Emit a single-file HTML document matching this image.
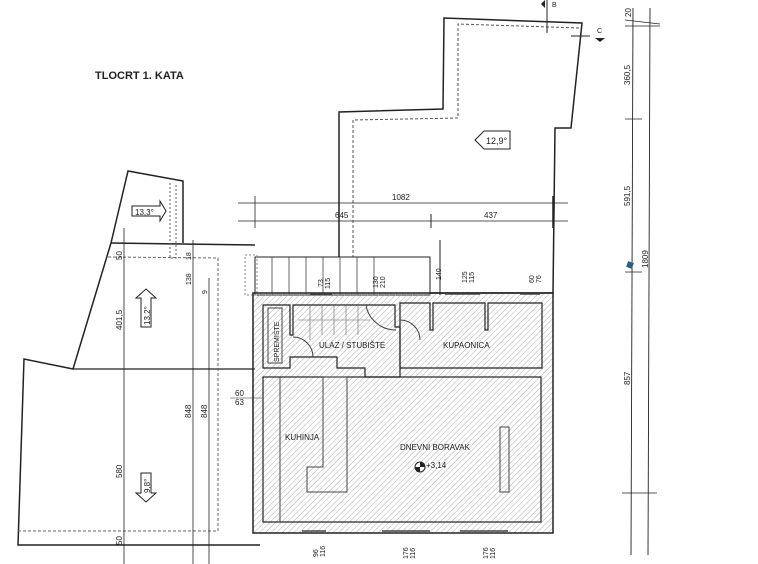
<!DOCTYPE html>
<html><head><style>
html,body{margin:0;padding:0;background:#fff;}
svg{display:block;}
text{font-family:"Liberation Sans",sans-serif;fill:#222;}
</style></head><body>
<svg width="758" height="564" viewBox="0 0 758 564" xmlns="http://www.w3.org/2000/svg">
<defs>
<pattern id="h" width="4" height="4" patternUnits="userSpaceOnUse" patternTransform="rotate(45)">
<line x1="0" y1="0" x2="0" y2="4" stroke="#999" stroke-width="0.8"/>
</pattern>
</defs>
<rect width="758" height="564" fill="#fff"/>
<text x="95" y="79" font-size="11" font-weight="bold">TLOCRT 1. KATA</text>

<polygon points="339,250 339,112 443,109 444,18 582,23 571,128 555,128 553,293 339,293" fill="none" stroke="#222" stroke-width="1.5"/>
<polyline points="353,293 353,120 458,118 458,24 580,28" fill="none" stroke="#555" stroke-dasharray="3,2"/>
<polygon points="475,140 484,131 510,131 510,149 484,149" fill="#fff" stroke="#222"/>
<text x="486" y="144" font-size="9">12,9°</text>
<line x1="547" y1="0" x2="547" y2="33" stroke="#222"/>
<path d="M545,0 L545,8 L541,4 Z" fill="#222"/><text x="552" y="7" font-size="7">B</text>
<line x1="571" y1="36" x2="590" y2="36" stroke="#222"/>
<path d="M595,38 L605,38 L600,42 Z" fill="#222"/><text x="597" y="33" font-size="7">C</text>

<line x1="238" y1="203" x2="568" y2="203" stroke="#222" stroke-width="0.8"/>
<line x1="238" y1="221" x2="568" y2="221" stroke="#222" stroke-width="0.8"/>
<line x1="431" y1="214" x2="431" y2="228" stroke="#222"/>
<line x1="553" y1="196" x2="553" y2="228" stroke="#222" stroke-width="1.5"/>
<line x1="255" y1="196" x2="255" y2="228" stroke="#222" stroke-width="0.8"/>
<text x="392" y="200" font-size="8">1082</text>
<text x="335" y="218" font-size="8">645</text>
<text x="484" y="218" font-size="8">437</text>

<polyline points="111,243 128,171 183,181 183,243" fill="none" stroke="#222" stroke-width="1.5"/>
<polyline points="111,243 255,245" fill="none" stroke="#222" stroke-width="1.5"/>
<polyline points="111,243 73,369 24,359 18,545 260,545" fill="none" stroke="#222" stroke-width="1.5"/>
<line x1="73" y1="369" x2="255" y2="369" stroke="#222" stroke-width="1.2"/>
<polyline points="170,183 170,258 176,258 176,183" fill="none" stroke="#666" stroke-dasharray="2,2"/>
<polyline points="108,257 218,258 218,531 18,531" fill="none" stroke="#666" stroke-dasharray="3,2"/>
<polygon points="132,206 160,206 160,201 166,211 160,221 160,216 132,216" fill="#fff" stroke="#222"/>
<text x="135" y="215" font-size="8">13,3°</text>
<polygon points="141,327 141,298 136,298 146,289 156,298 151,298 151,327" fill="#fff" stroke="#222"/>
<text x="150" y="325" font-size="8" transform="rotate(-90 150 325)">13,2°</text>
<polygon points="141,473 141,493 136,493 146,502 156,493 151,493 151,473" fill="#fff" stroke="#222"/>
<text x="150" y="493" font-size="8" transform="rotate(-90 150 493)">9,8°</text>
<line x1="124" y1="228" x2="124" y2="564" stroke="#222" stroke-width="0.8"/>
<line x1="193" y1="240" x2="193" y2="564" stroke="#222" stroke-width="0.8"/>
<line x1="209" y1="278" x2="209" y2="564" stroke="#222" stroke-width="0.8"/>
<text x="122" y="260" font-size="8" transform="rotate(-90 122 260)">50</text>
<text x="122" y="330" font-size="8" transform="rotate(-90 122 330)">401,5</text>
<text x="122" y="478" font-size="8" transform="rotate(-90 122 478)">580</text>
<text x="122" y="545" font-size="8" transform="rotate(-90 122 545)">50</text>
<text x="191" y="285" font-size="7" transform="rotate(-90 191 285)">138</text>
<text x="191" y="260" font-size="7" transform="rotate(-90 191 260)">18</text>
<text x="207" y="294" font-size="7" transform="rotate(-90 207 294)">9</text>
<text x="191" y="418" font-size="8" transform="rotate(-90 191 418)">848</text>
<text x="207" y="418" font-size="8" transform="rotate(-90 207 418)">848</text>
<text x="235" y="396" font-size="8">60</text>
<text x="235" y="405" font-size="8">63</text>
<line x1="230" y1="398" x2="262" y2="398" stroke="#222" stroke-width="0.6"/>

<rect x="255" y="257" width="175" height="38" fill="#fff" stroke="#222"/>
<g stroke="#444" stroke-width="0.8">
<line x1="272" y1="257" x2="272" y2="295"/><line x1="289" y1="257" x2="289" y2="295"/>
<line x1="306" y1="257" x2="306" y2="295"/><line x1="323" y1="257" x2="323" y2="295"/>
<line x1="340" y1="257" x2="340" y2="295"/><line x1="357" y1="257" x2="357" y2="295"/>
<line x1="374" y1="257" x2="374" y2="295"/>
</g>
<rect x="245" y="255" width="12" height="40" fill="none" stroke="#888" stroke-dasharray="2,2"/>
<line x1="440" y1="240" x2="440" y2="295" stroke="#222"/>

<rect x="253" y="293" width="300" height="240" fill="url(#h)" stroke="#222" stroke-width="1.5"/>
<rect x="263" y="377" width="278" height="145" fill="none" stroke="#222" stroke-width="1.2"/>
<line x1="280" y1="377" x2="280" y2="522" stroke="#444"/>
<polygon points="323,377 347,377 347,492 307,492 307,467 323,467" fill="none" stroke="#444"/>
<rect x="500" y="427" width="9" height="65" fill="none" stroke="#444"/>
<polygon points="400,303 430,303 430,330 433,330 433,303 485,303 485,330 488,330 488,303 542,303 542,368 400,368" fill="none" stroke="#222" stroke-width="1.2"/>
<polygon points="263,305 290,305 290,335 293,335 293,305 395,305 395,327 400,327 400,377 365,377 365,368 337,368 337,357 290,357 290,368 263,368" fill="none" stroke="#222" stroke-width="1.2"/>
<g stroke="#666" stroke-width="0.6">
<line x1="310" y1="306" x2="310" y2="340"/><line x1="322" y1="306" x2="322" y2="335"/>
<line x1="334" y1="306" x2="334" y2="335"/><line x1="346" y1="306" x2="346" y2="335"/>
<line x1="358" y1="306" x2="358" y2="335"/><line x1="298" y1="320" x2="370" y2="320"/>
</g>
<rect x="268" y="308" width="14" height="55" fill="none" stroke="#444"/>
<path d="M293,337 A20,20 0 0 1 313,357" fill="none" stroke="#444"/>
<path d="M400,320 A20,20 0 0 1 420,340" fill="none" stroke="#444"/>
<path d="M366,305 A30,30 0 0 0 396,330" fill="none" stroke="#444"/>
<g stroke="#444" stroke-width="1.5">
<line x1="302" y1="531" x2="326" y2="531"/><line x1="382" y1="531" x2="430" y2="531"/><line x1="460" y1="531" x2="508" y2="531"/>
<line x1="310" y1="294" x2="332" y2="294"/><line x1="445" y1="294" x2="480" y2="294"/><line x1="520" y1="294" x2="540" y2="294"/>
</g>
<text x="319" y="348" font-size="8">ULAZ / STUBIŠTE</text>
<text x="443" y="348" font-size="8">KUPAONICA</text>
<text x="285" y="440" font-size="8">KUHINJA</text>
<text x="400" y="450" font-size="8">DNEVNI BORAVAK</text>
<text x="279" y="362" font-size="7" transform="rotate(-90 279 362)">SPREMIŠTE</text>
<circle cx="420" cy="467" r="5" fill="#fff" stroke="#222"/>
<path d="M420,462 A5,5 0 0 1 425,467 L420,467 Z M420,472 A5,5 0 0 1 415,467 L420,467 Z" fill="#222"/>
<text x="426" y="468" font-size="8">+3,14</text>
<g font-size="7">
<text x="323" y="287" transform="rotate(-90 323 287)">73</text>
<text x="330" y="289" transform="rotate(-90 330 289)">115</text>
<text x="378" y="288" transform="rotate(-90 378 288)">130</text>
<text x="385" y="288" transform="rotate(-90 385 288)">210</text>
<text x="441" y="280" transform="rotate(-90 441 280)">140</text>
<text x="467" y="283" transform="rotate(-90 467 283)">125</text>
<text x="474" y="283" transform="rotate(-90 474 283)">115</text>
<text x="534" y="283" transform="rotate(-90 534 283)">60</text>
<text x="541" y="283" transform="rotate(-90 541 283)">76</text>
<text x="318" y="557" transform="rotate(-90 318 557)">96</text>
<text x="325" y="557" transform="rotate(-90 325 557)">116</text>
<text x="408" y="559" transform="rotate(-90 408 559)">176</text>
<text x="415" y="559" transform="rotate(-90 415 559)">116</text>
<text x="488" y="559" transform="rotate(-90 488 559)">176</text>
<text x="495" y="559" transform="rotate(-90 495 559)">116</text>
</g>

<line x1="633" y1="8" x2="631" y2="555" stroke="#222" stroke-width="0.9"/>
<line x1="650" y1="8" x2="648" y2="555" stroke="#222" stroke-width="0.9"/>
<g stroke="#222" stroke-width="0.8">
<line x1="625" y1="20" x2="660" y2="24"/><line x1="625" y1="26" x2="660" y2="26"/>
<line x1="625" y1="119" x2="642" y2="119"/><line x1="625" y1="272" x2="642" y2="272"/>
<line x1="622" y1="493" x2="657" y2="493"/>
</g>
<rect x="627" y="262" width="6" height="6" fill="#2a5d8a" transform="rotate(20 630 265)"/>
<g font-size="8">
<text x="631" y="17" transform="rotate(-90 631 17)">20</text>
<text x="630" y="85" transform="rotate(-90 630 85)">360,5</text>
<text x="630" y="206" transform="rotate(-90 630 206)">591,5</text>
<text x="648" y="268" transform="rotate(-90 648 268)">1809</text>
<text x="630" y="385" transform="rotate(-90 630 385)">857</text>
</g>
</svg>
</body></html>
